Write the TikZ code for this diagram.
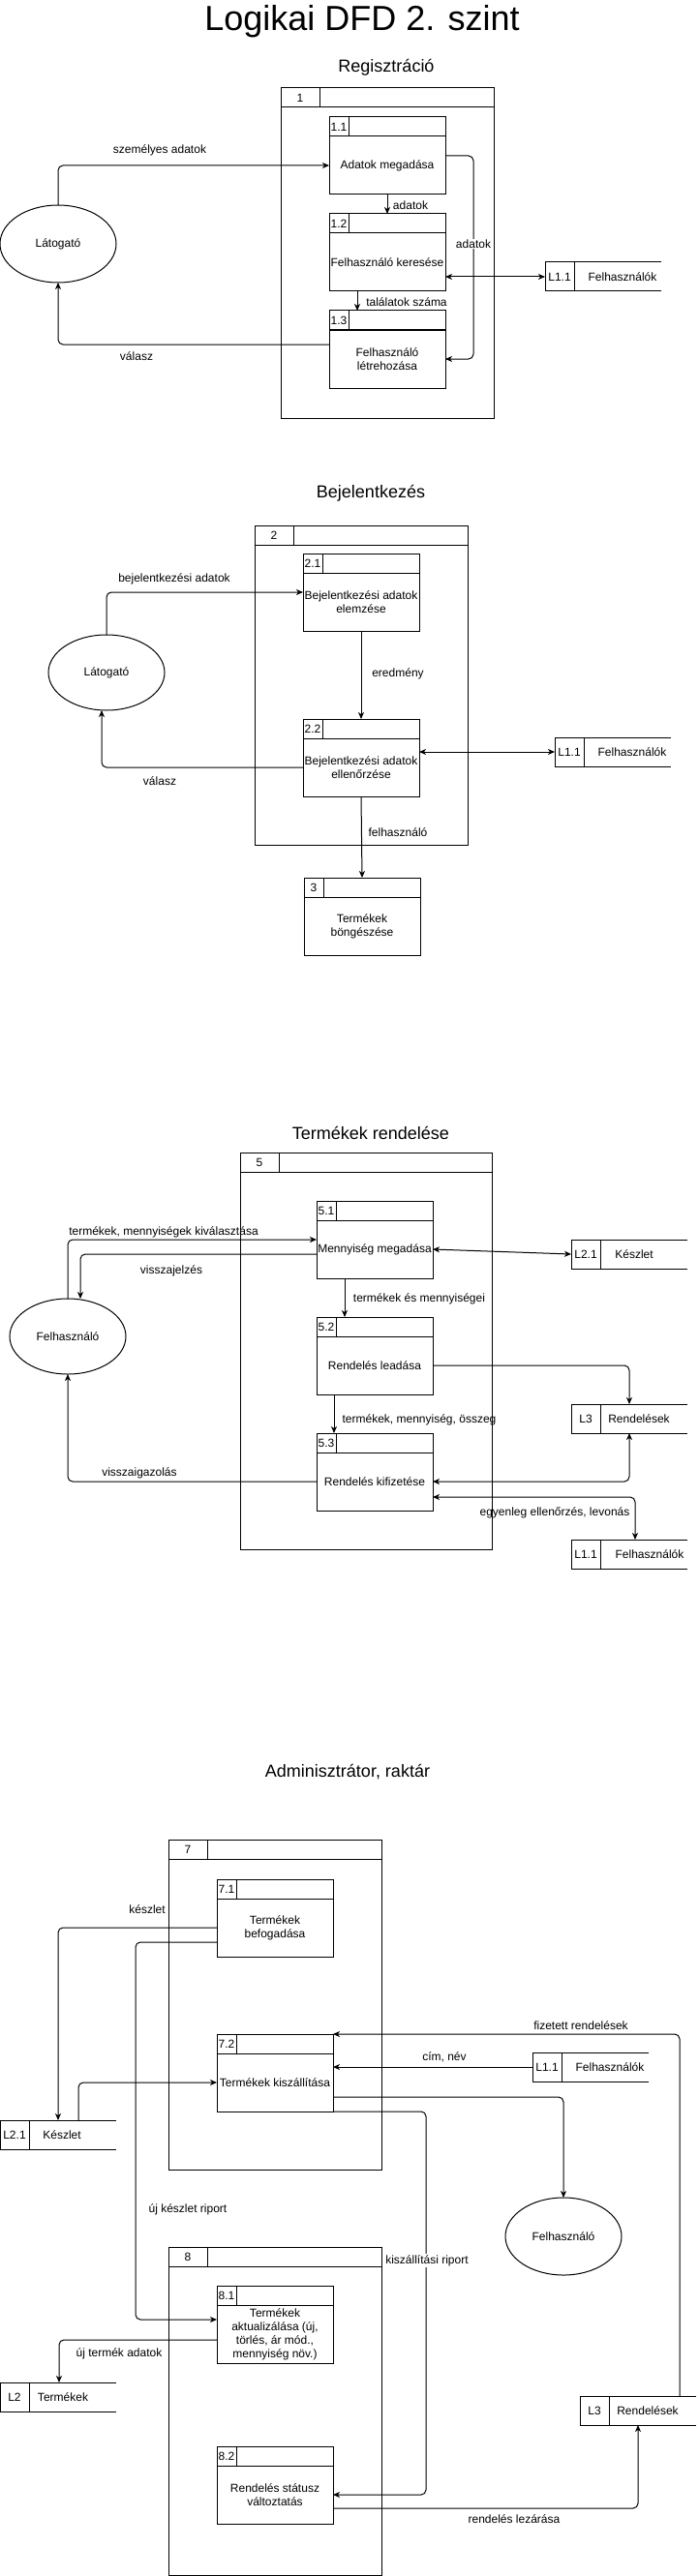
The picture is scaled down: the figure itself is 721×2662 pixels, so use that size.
\documentclass[tikz,border=0pt]{standalone}
\usepackage{fontspec}
\setmainfont{Liberation Sans}
\usetikzlibrary{arrows.meta,calc,shapes.geometric}

\tikzset{
  every node/.style={font=\fontsize{12}{14}\selectfont, inner sep=0pt, outer sep=0pt},
  procbox/.style={draw, minimum width=120pt, minimum height=80pt, anchor=north west},
  hdrbox/.style={draw, minimum width=120pt, minimum height=20pt, anchor=north west},
  bodybox/.style={minimum width=120pt, minimum height=60pt, anchor=north west},
  storebox/.style={minimum width=120pt, minimum height=30pt, anchor=north west},
  ent/.style={draw, ellipse, minimum width=120pt, minimum height=80pt},
  lbl/.style={align=center},
  wlbl/.style={fill=white, inner sep=1pt},
  sect/.style={font=\fontsize{18}{22}\selectfont},
  arr/.style={-{Stealth[length=7pt,width=6pt,inset=2pt]}},
  dbl/.style={{Stealth[length=7pt,width=6pt,inset=2pt]}-{Stealth[length=7pt,width=6pt,inset=2pt]}},
  rc/.style={rounded corners=5pt}
}

% process: name, x, y, number, text
\newcommand{\dfdproc}[5]{%
  \node[procbox] (#1) at (#2,#3) {};
  \node[hdrbox] (#1h) at (#2,#3) {};
  \node[bodybox] (#1b) at ($(#2,#3)+(0,20)$) {};
  \node[align=center] at (#1b.center) {#5};
  \draw (#1h.north west) ++(20,0) -- ++(0,20);
  \node at ($(#1h.west)+(10,0)$) {#4};
}
% container: name, x, y, w, h, number
\newcommand{\dfdcont}[6]{%
  \node[draw, minimum width=#4pt, minimum height=#5pt, anchor=north west] (#1) at (#2,#3) {};
  \draw (#1.north west) ++(0,20) -- ++(#4,0);
  \draw (#1.north west) ++(40,0) -- ++(0,20);
  \node at ($(#1.north west)+(20,10)$) {#6};
}
% store: name, x, y, id, label, label offset from divider
\newcommand{\dfdstore}[6]{%
  \node[storebox] (#1) at (#2,#3) {};
  \draw (#1.north east) -- (#1.north west) -- (#1.south west) -- (#1.south east);
  \draw (#1.north west) ++(30,0) -- ++(0,30);
  \node at ($(#1.west)+(15,0)$) {#4};
  \node at ($(#1.west)+(30+#6,0)$) {#5};
}

\begin{document}
\begin{tikzpicture}[x=1pt,y=-1pt,line width=1pt]
\useasboundingbox (0,0) rectangle (721,2662);

\node[font=\fontsize{36}{42}\selectfont] (title) at (374,22) {Logikai DFD 2. szint};

% ---------------- Section 1: Regisztráció
\node[sect] (t1) at (399,70) {Regisztráció};
\dfdcont{c1}{290}{91}{220}{341}{1}
\dfdproc{p11}{340}{121}{1.1}{Adatok megadása}
\dfdproc{p12}{340}{221}{1.2}{Felhasználó keresése}
\dfdproc{p13}{340}{321}{1.3}{Felhasználó\\létrehozása}
\node[ent] (lat1) at (60,252) {Látogató};
\dfdstore{s11a}{563}{271}{L1.1}{Felhasználók}{50}

\draw[arr,rc] (lat1.north) |- (p11b.west);
\draw[arr] (p11.south) -- (p12.north);
\draw[arr,rc] (p11.east) -- ++(29,0) |- (p13b.east);
\draw[dbl] (s11a.west) -- (s11a.west -| p12.east);
\draw[arr] ($(p12.south)+(-31,0)$) -- ($(p13.north)+(-31,0)$);
\draw[arr,rc] ($(p13.north west)+(0,35)$) -| (lat1.south);

\node[lbl] (l1a) at (165,155) {személyes adatok};
\node[lbl] (l1b) at (424,212) {adatok};
\node[wlbl] (l1c) at (489,252) {adatok};
\node[lbl] (l1d) at (420,312) {találatok száma};
\node[lbl] (l1e) at (141,368) {válasz};

% ---------------- Section 2: Bejelentkezés
\node[sect] (t2) at (383,510) {Bejelentkezés};
\dfdcont{c2}{263}{543}{220}{330}{2}
\dfdproc{p21}{313}{572}{2.1}{Bejelentkezési adatok\\elemzése}
\dfdproc{p22}{313}{743}{2.2}{Bejelentkezési adatok\\ellenőrzése}
\dfdproc{p3}{314}{907}{3}{Termékek\\böngészése}
\node[ent, minimum height=78pt] (lat2) at (110,695) {Látogató};
\dfdstore{s11b}{573}{762}{L1.1}{Felhasználók}{50}

\draw[arr,rc] (lat2.north) |- (p21.west);
\draw[arr] (p21.south) -- (p22.north);
\draw[dbl] (s11b.west) -- (s11b.west -| p22.east);
\draw[arr,rc] (p22b.west) -| ([xshift=-5pt]lat2.south);
\draw[arr] (p22.south) -- (p3.north);

\node[lbl] (l2a) at (180,598) {bejelentkezési adatok};
\node[lbl] (l2b) at (411,696) {eredmény};
\node[lbl] (l2c) at (165,807) {válasz};
\node[lbl] (l2d) at (411,860) {felhasználó};

% ---------------- Section 3: Termékek rendelése
\node[sect] (t3) at (383,1171) {Termékek rendelése};
\dfdcont{c5}{248}{1191}{260}{410}{5}
\dfdproc{p51}{327}{1241}{5.1}{Mennyiség megadása}
\dfdproc{p52}{327}{1361}{5.2}{Rendelés leadása}
\dfdproc{p53}{327}{1481}{5.3}{Rendelés kifizetése}
\node[ent, minimum height=78pt] (fel1) at (70,1381) {Felhasználó};
\dfdstore{s21c}{590}{1281}{L2.1}{Készlet}{35}
\dfdstore{s3c}{590}{1451}{L3}{Rendelések}{40}
\dfdstore{s11c}{590}{1591}{L1.1}{Felhasználók}{51}

\draw[arr,rc] (fel1.north) |- (p51.west);
\draw[arr,rc] ($(p51.north west)+(0,55)$) -| ([xshift=13pt]fel1.north);
\draw[dbl] (p51b.east) -- (s21c.west);
\draw[arr] ($(p51.south)+(-31,0)$) -- ($(p52.north)+(-31,0)$);
\draw[arr,rc] (p52b.east) -| (s3c.north);
\draw[arr] ($(p52.south)+(-42,0)$) -- ($(p53.north)+(-42,0)$);
\draw[arr,rc] (p53b.west) -| (fel1.south);
\draw[dbl,rc] (s3c.south) |- (p53b.east);
\draw[dbl,rc] ($(p53.north west)+(120,66)$) -| ([xshift=6pt]s11c.north);

\node[lbl] (l3a) at (169,1273) {termékek, mennyiségek kiválasztása};
\node[lbl] (l3b) at (177,1313) {visszajelzés};
\node[lbl] (l3c) at (433,1342) {termékek és mennyiségei};
\node[lbl] (l3d) at (433,1467) {termékek, mennyiség, összeg};
\node[lbl] (l3e) at (144,1522) {visszaigazolás};
\node[lbl] (l3f) at (573,1563) {egyenleg ellenőrzés, levonás};

% ---------------- Section 4: Adminisztrátor, raktár
\node[sect] (t4) at (359,1831) {Adminisztrátor, raktár};
\dfdcont{c7}{174}{1901}{220}{341}{7}
\dfdproc{p71}{224}{1942}{7.1}{Termékek\\befogadása}
\dfdproc{p72}{224}{2102}{7.2}{Termékek kiszállítása}
\dfdcont{c8}{174}{2322}{220}{339}{8}
\dfdproc{p81}{224}{2362}{8.1}{Termékek\\aktualizálása (új,\\törlés, ár mód.,\\mennyiség növ.)}
\dfdproc{p82}{224}{2528}{8.2}{Rendelés státusz\\változtatás}
\node[ent] (fel2) at (582,2311) {Felhasználó};
\dfdstore{s21d}{0}{2191}{L2.1}{Készlet}{34}
\dfdstore{s11d}{550}{2121}{L1.1}{Felhasználók}{50}
\dfdstore{s2d}{0}{2462}{L2}{Termékek}{35}
\dfdstore{s3d}{599}{2476}{L3}{Rendelések}{40}

\draw[arr,rc] (p71b.west) -| (s21d.north);
\draw[arr,rc] ($(p71.north west)+(0,65)$) -- ++(-84,0) |- ($(p81.north west)+(0,35)$);
\draw[arr,rc] ([xshift=21pt]s21d.north) |- (p72b.west);
\draw[arr,rc] ([xshift=43pt]s3d.north) |- (p72.north east);
\draw[arr] (s11d.west) -- (s11d.west -| p72.east);
\draw[arr,rc] ($(p72.north west)+(120,65)$) -| (fel2.north);
\draw[arr,rc] (p72.south east) -- ++(96,0) |- (p82b.east);
\draw[arr,rc] ($(p81.north west)+(0,56)$) -| ([xshift=1pt]s2d.north);
\draw[arr,rc] ($(p82.north west)+(120,64)$) -| (s3d.south);

\node[lbl] (l4a) at (152,1973) {készlet};
\node[lbl] (l4b) at (194,2283) {új készlet riport};
\node[lbl] (l4c) at (600,2093) {fizetett rendelések};
\node[lbl] (l4d) at (459,2126) {cím, név};
\node[wlbl] (l4e) at (441,2336) {kiszállítási riport};
\node[lbl] (l4f) at (123,2432) {új termék adatok};
\node[lbl] (l4g) at (531,2603) {rendelés lezárása};
\end{tikzpicture}
\end{document}
